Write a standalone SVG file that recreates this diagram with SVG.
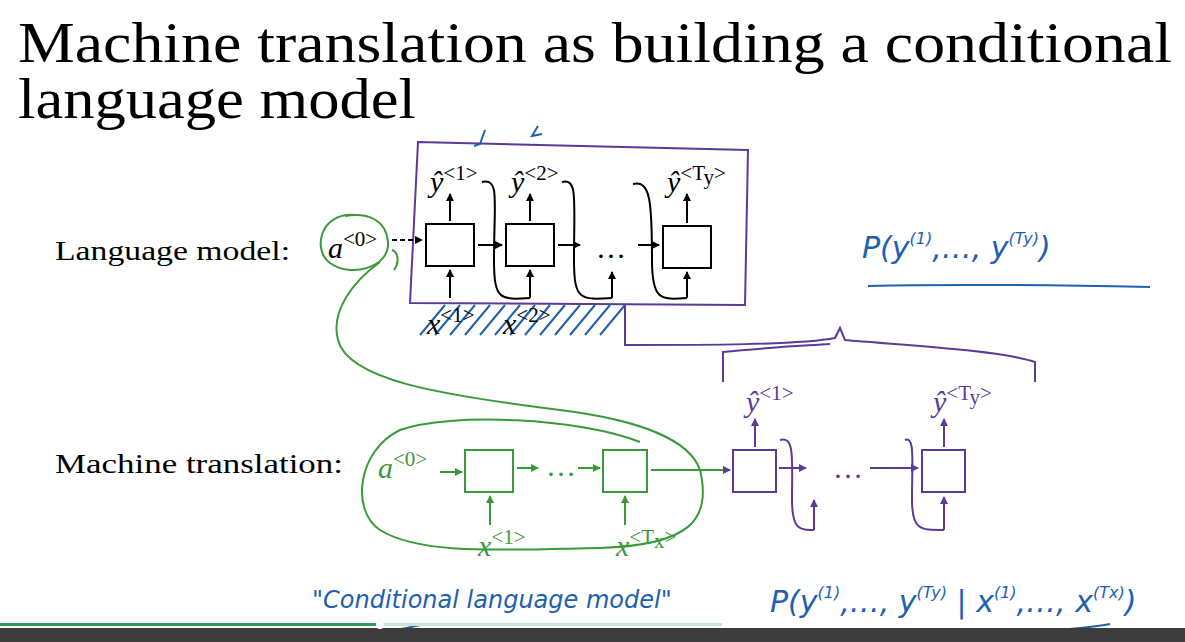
<svg xmlns="http://www.w3.org/2000/svg" width="1185" height="642" viewBox="0 0 1185 642">
<defs>
<marker id="ab" markerWidth="8" markerHeight="8" refX="7" refY="4" orient="auto" markerUnits="userSpaceOnUse"><path d="M0,0 L8,4 L0,8 z" fill="#000"/></marker>
<marker id="ag" markerWidth="8" markerHeight="8" refX="7" refY="4" orient="auto" markerUnits="userSpaceOnUse"><path d="M0,0 L8,4 L0,8 z" fill="#3a9a3a"/></marker>
<marker id="ap" markerWidth="8" markerHeight="8" refX="7" refY="4" orient="auto" markerUnits="userSpaceOnUse"><path d="M0,0 L8,4 L0,8 z" fill="#5b3a9a"/></marker>
</defs>
<style>
.t{font-family:"Liberation Serif",serif;fill:#000}
.m{font-family:"Liberation Serif",serif;font-style:italic;fill:#000;font-size:30px}
.s{font-size:21px;font-style:normal}
.hb{font-family:"DejaVu Sans",sans-serif;fill:#2060b0;font-style:italic}
.box{fill:#fff;stroke:#000;stroke-width:2}
.gbox{fill:#fff;stroke:#3a9a3a;stroke-width:2}
.pbox{fill:#fff;stroke:#5b3a9a;stroke-width:2}
.k{stroke:#000;stroke-width:2;fill:none}
.g{stroke:#3a9a3a;stroke-width:2;fill:none}
.p{stroke:#5b3a9a;stroke-width:2;fill:none}
.b{stroke:#2060b0;stroke-width:2;fill:none}
</style>
<rect width="1185" height="642" fill="#fff"/>
<text class="t" x="18" y="62" font-size="56" textLength="1154" lengthAdjust="spacingAndGlyphs">Machine translation as building a conditional</text>
<text class="t" x="18" y="118" font-size="56" textLength="398" lengthAdjust="spacingAndGlyphs">language model</text>
<text class="t" x="55" y="260" font-size="28" textLength="235" lengthAdjust="spacingAndGlyphs">Language model:</text>
<text class="t" x="55" y="473" font-size="28" textLength="288" lengthAdjust="spacingAndGlyphs">Machine translation:</text>

<g id="lm-frame"><path class="p" d="M418,142 L748,150 L745,305 L410,303 Z"/></g>
<g id="lm-hatch" class="b" stroke-width="1.5">
<path d="M420,335 L445,305 M435,335 L460,305 M450,335 L475,305 M465,335 L490,305 M480,335 L505,305 M495,335 L520,305 M510,335 L535,305 M525,335 L550,305 M540,335 L565,305 M555,335 L580,305 M570,335 L595,305 M585,335 L610,305 M600,335 L625,305"/>
<path d="M485,130 L480,144 L474,146 M538,126 L532,136 L542,134"/>
</g>
<g id="a0-lm"><text class="m" x="328" y="258">a<tspan class="s" dy="-12">&lt;0&gt;</tspan></text></g>
<g id="lm1"><rect class="box" x="426" y="224" width="48" height="42"/></g>
<g id="lm2"><rect class="box" x="506" y="224" width="48" height="42"/></g>
<g id="lm3"><rect class="box" x="663" y="226" width="48" height="42"/></g>
<text class="t" x="596" y="258" font-size="30">…</text>
<text class="m" x="430" y="192">ŷ<tspan class="s" dy="-12">&lt;1&gt;</tspan></text>
<text class="m" x="511" y="192">ŷ<tspan class="s" dy="-12">&lt;2&gt;</tspan></text>
<text class="m" x="667" y="192">ŷ<tspan class="s" dy="-12">&lt;</tspan><tspan class="s" font-style="italic">T</tspan><tspan class="s" font-size="14" font-style="italic" dy="4">y</tspan><tspan class="s" dy="-4">&gt;</tspan></text>
<text class="m" x="427" y="334">x<tspan class="s" dy="-12">&lt;1&gt;</tspan></text>
<text class="m" x="503" y="334">x<tspan class="s" dy="-12">&lt;2&gt;</tspan></text>

<g id="mt-a0"><text class="m" x="378" y="478" style="fill:#3a9a3a">a<tspan class="s" dy="-12">&lt;0&gt;</tspan></text></g>
<g id="enc1"><rect class="gbox" x="465" y="450" width="48" height="42"/></g>
<g id="enc2"><rect class="gbox" x="603" y="450" width="44" height="42"/></g>
<text x="546" y="476" font-size="30" font-family="Liberation Serif,serif" fill="#3a9a3a">…</text>
<g id="dec1"><rect class="pbox" x="733" y="450" width="43" height="42"/></g>
<g id="dec2"><rect class="pbox" x="922" y="450" width="43" height="42"/></g>
<text x="833" y="478" font-size="30" font-family="Liberation Serif,serif" fill="#5b3a9a">…</text>
<text class="m" x="746" y="412" style="fill:#5b3a9a">ŷ<tspan class="s" dy="-12">&lt;1&gt;</tspan></text>
<text class="m" x="933" y="412" style="fill:#5b3a9a">ŷ<tspan class="s" dy="-12">&lt;</tspan><tspan class="s" font-style="italic">T</tspan><tspan class="s" font-size="14" font-style="italic" dy="4">y</tspan><tspan class="s" dy="-4">&gt;</tspan></text>
<text class="m" x="478" y="556" style="fill:#3a9a3a">x<tspan class="s" dy="-12">&lt;1&gt;</tspan></text>
<text class="m" x="616" y="556" style="fill:#3a9a3a">x<tspan class="s" dy="-12">&lt;</tspan><tspan class="s" font-style="italic">T</tspan><tspan class="s" font-size="14" font-style="italic" dy="4">x</tspan><tspan class="s" dy="-4">&gt;</tspan></text>

<g id="connectors">
<path class="k" d="M392,240 L422,240" stroke-dasharray="5,3" marker-end="url(#ab)"/>
<path class="k" d="M478,245 L502,245" marker-end="url(#ab)"/>
<path class="k" d="M558,245 L580,245" marker-end="url(#ab)"/>
<path class="k" d="M638,245 L659,245" marker-end="url(#ab)"/>
<path class="k" d="M450,221 L450,194" marker-end="url(#ab)"/>
<path class="k" d="M530,221 L530,194" marker-end="url(#ab)"/>
<path class="k" d="M687,223 L687,194" marker-end="url(#ab)"/>
<path class="k" d="M450,298 L450,270" marker-end="url(#ab)"/>
<path class="k" d="M530,298 L530,270" marker-end="url(#ab)"/>
<path class="k" d="M612,298 L612,272" marker-end="url(#ab)"/>
<path class="k" d="M687,298 L687,272" marker-end="url(#ab)"/>
<path class="k" stroke-width="1.2" d="M482,182 C500,178 494,200 494,260 C494,300 500,300 530,298"/>
<path class="k" stroke-width="1.2" d="M562,182 C578,178 574,200 574,260 C574,300 580,300 612,298"/>
<path class="k" stroke-width="1.2" d="M633,184 C650,180 652,200 652,260 C652,300 660,300 687,298"/>
<path class="g" d="M440,472 L462,472" marker-end="url(#ag)"/>
<path class="g" d="M517,468 L538,468" marker-end="url(#ag)"/>
<path class="g" d="M578,468 L600,468" marker-end="url(#ag)"/>
<path class="g" d="M651,470 L730,470" marker-end="url(#ap)"/>
<path class="g" d="M490,525 L490,496" marker-end="url(#ag)"/>
<path class="g" d="M625,525 L625,496" marker-end="url(#ag)"/>
<path class="p" d="M779,468 L806,468" marker-end="url(#ap)"/>
<path class="p" d="M870,468 L918,468" marker-end="url(#ap)"/>
<path class="p" d="M755,447 L755,419" marker-end="url(#ap)"/>
<path class="p" d="M944,447 L944,419" marker-end="url(#ap)"/>
<path class="p" d="M814,530 L814,500" marker-end="url(#ap)"/>
<path class="p" d="M944,530 L944,497" marker-end="url(#ap)"/>
<path class="p" stroke-width="1.2" d="M780,440 C795,436 792,460 792,500 C792,530 800,530 814,530"/>
<path class="p" stroke-width="1.2" d="M905,440 C915,436 912,460 912,500 C912,530 920,530 944,530"/>
<path class="g" d="M355,215 C320,212 312,250 330,263 C350,278 390,268 388,242 C386,220 368,212 345,216"/>
<path class="g" d="M380,262 C355,280 330,310 338,340 C348,380 440,395 560,410 C640,420 690,440 700,470 C712,520 690,545 600,548 C500,550 420,555 380,530 C350,510 358,450 400,430 C450,412 580,418 640,442"/>
<path class="g" d="M392,250 C398,252 400,262 394,270"/>
<path class="p" d="M625,305 L625,345 C700,345 800,345 835,338 L840,328 L845,340 C900,345 1000,350 1035,362 L1035,382"/>
<path class="p" d="M723,382 L723,352 C760,348 800,346 830,344"/>
</g>

<text class="hb" x="862" y="258" font-size="30">P(y<tspan font-size="16" dy="-14">(1)</tspan><tspan dy="14">,…, y</tspan><tspan font-size="16" dy="-14">(Ty)</tspan><tspan dy="14">)</tspan></text>
<path class="b" d="M868,286 C950,284 1050,285 1150,287"/>
<text class="hb" x="312" y="608" font-size="24">"Conditional language model"</text>
<path class="b" stroke-width="2.5" d="M355,635 C380,633 400,630 420,625"/>
<text class="hb" x="770" y="612" font-size="30">P(y<tspan font-size="16" dy="-14">(1)</tspan><tspan dy="14">,…, y</tspan><tspan font-size="16" dy="-14">(Ty)</tspan><tspan dy="14"> | x</tspan><tspan font-size="16" dy="-14">(1)</tspan><tspan dy="14">,…, x</tspan><tspan font-size="16" dy="-14">(Tx)</tspan><tspan dy="14">)</tspan></text>
<path class="b" d="M820,637 C850,638 890,637 925,634"/>
<path class="b" d="M1030,632 C1060,630 1090,628 1110,624"/>

<g id="player">
<rect x="0" y="628" width="1185" height="14" fill="#3c3c3c"/>
<rect x="0" y="623" width="380" height="3" fill="#2aa060"/>
<rect x="380" y="623" width="342" height="3" fill="#c8e6d5"/>
<circle cx="380" cy="625" r="4" fill="#fff"/>
</g>
</svg>
